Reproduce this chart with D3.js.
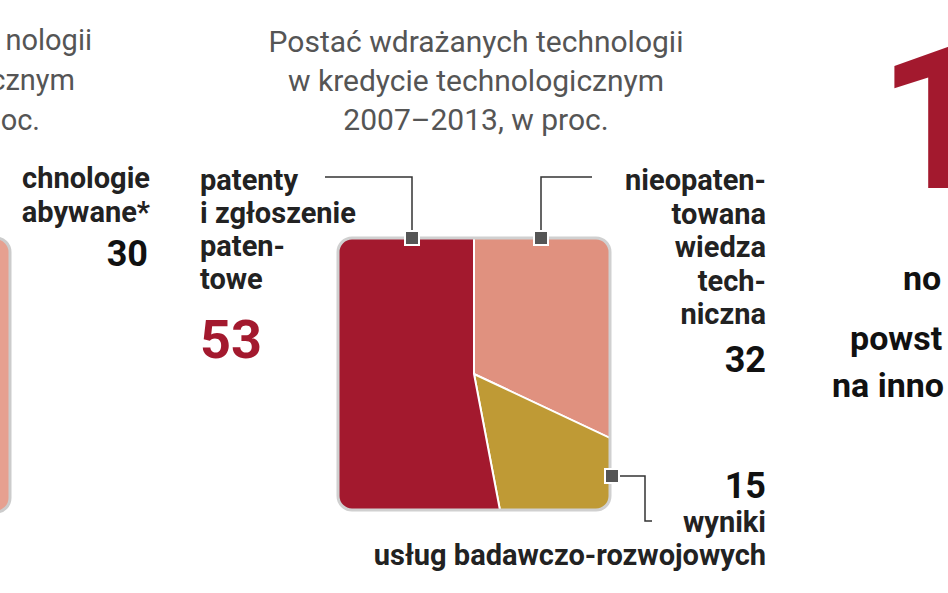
<!DOCTYPE html><html><head><meta charset="utf-8">
<script src="https://cdn.jsdelivr.net/npm/d3@7"></script>
<style>body{margin:0;background:#fff}text{font-family:"Liberation Sans Narrow","Roboto","Noto Sans",sans-serif}</style></head><body>
<script>
const categories=["nieopatentowana wiedza techniczna","wyniki usług badawczo-rozwojowych","patenty i zgłoszenie patentowe"];
const values=[32,15,53];
const colors=["#e0917f","#bf9a35","#a3192e"];
const titleLines=["Postać wdrażanych technologii","w kredycie technologicznym","2007–2013, w proc."];

const svg=d3.select("body").append("svg").attr("width",948).attr("height",593);
svg.append("rect").attr("x",-40).attr("y",238).attr("width",50).attr("height",274).attr("rx",14).attr("fill","#e6a090").attr("stroke","#ccc").attr("stroke-width",3);
const L=[["nologii",92,50,"#555","normal"],["cznym",75,90,"#555","normal"],["oc.",40,130,"#555","normal"],["chnologie",150,188,"#222","bold"],["abywane*",150,222,"#222","bold"]];
L.forEach(d=>svg.append("text").attr("x",d[1]).attr("y",d[2]).attr("text-anchor","end").attr("fill",d[3]).attr("font-weight",d[4]).attr("font-size",29).text(d[0]));
svg.append("text").attr("x",148).attr("y",266).attr("text-anchor","end").attr("font-weight","bold").attr("font-size",36).attr("fill","#111").text("30");
svg.append("text").attr("x",878).attr("y",188).attr("font-weight","bold").attr("font-size",200).attr("fill","#a3192e").text("1");
[["no",903,290],["powst",850,350],["na inno",832,397]].forEach(d=>svg.append("text").attr("x",d[1]).attr("y",d[2]).attr("font-weight","bold").attr("font-size",34).attr("fill","#111").text(d[0]));

titleLines.forEach((t,i)=>svg.append("text").attr("x",476).attr("y",52+i*39).attr("text-anchor","middle").attr("fill","#555").attr("font-size",30).text(t));

const x0=338,y0=238,S=272,cx=x0+S/2,cy=y0+S/2;
svg.append("defs").append("clipPath").attr("id","c").append("rect").attr("x",x0).attr("y",y0).attr("width",S).attr("height",S).attr("rx",14);
const pie=d3.pie().sort(null)(values);
const arc=d3.arc().innerRadius(0).outerRadius(300);
svg.append("g").attr("clip-path","url(#c)").append("g").attr("transform",`translate(${cx},${cy})`)
 .selectAll("path").data(pie).join("path").attr("d",arc).attr("fill",(d,i)=>colors[i]).attr("stroke","#fff").attr("stroke-width",2);
svg.append("rect").attr("x",x0).attr("y",y0).attr("width",S).attr("height",S).attr("rx",14).attr("fill","none").attr("stroke","#d0d0d0").attr("stroke-width",3);

const ln=p=>svg.append("path").attr("d",d3.line()(p)).attr("fill","none").attr("stroke","#333").attr("stroke-width",1.5);
ln([[325,177],[412,177],[412,238]]);
ln([[541,238],[541,177],[592,177]]);
ln([[612,476],[645,476],[645,521],[652,521]]);
[[412,238],[541,238],[612,476]].forEach(p=>svg.append("rect").attr("x",p[0]-7).attr("y",p[1]-7).attr("width",14).attr("height",14).attr("fill","#555").attr("stroke","#fff").attr("stroke-width",2));

["patenty","i zgłoszenie","paten-","towe"].forEach((t,i)=>svg.append("text").attr("x",200).attr("y",190+i*33).attr("fill","#222").attr("font-weight","bold").attr("font-size",29).text(t));
svg.append("text").attr("x",200).attr("y",358).attr("fill",colors[2]).attr("font-weight","bold").attr("font-size",54).text(values[2]);
["nieopaten-","towana","wiedza","tech-","niczna"].forEach((t,i)=>svg.append("text").attr("x",766).attr("y",190+i*33.5).attr("text-anchor","end").attr("fill","#222").attr("font-weight","bold").attr("font-size",29).text(t));
svg.append("text").attr("x",766).attr("y",372).attr("text-anchor","end").attr("fill","#111").attr("font-weight","bold").attr("font-size",36).text(values[0]);
svg.append("text").attr("x",766).attr("y",498).attr("text-anchor","end").attr("fill","#111").attr("font-weight","bold").attr("font-size",36).text(values[1]);
["wyniki","usług badawczo-rozwojowych"].forEach((t,i)=>svg.append("text").attr("x",766).attr("y",532+i*33).attr("text-anchor","end").attr("fill","#222").attr("font-weight","bold").attr("font-size",29).text(t));
</script></body></html>
